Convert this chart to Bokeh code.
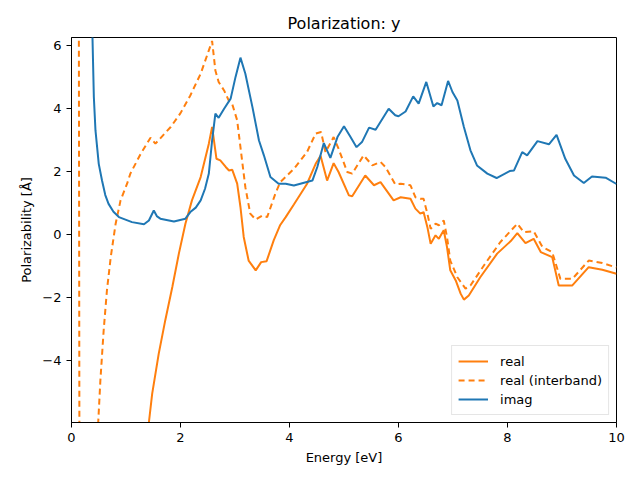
from bokeh.plotting import figure
from bokeh.embed import file_html
from bokeh.resources import INLINE
from bokeh.models import FixedTicker

# ---------------- data ----------------
imag_x = [0.33, 0.385, 0.41, 0.44, 0.50, 0.56, 0.62, 0.68, 0.77, 0.87, 1.11, 1.33, 1.42, 1.51,
          1.57, 1.63, 1.88, 2.09, 2.18, 2.28, 2.37, 2.45, 2.52, 2.58, 2.64, 2.70, 2.80, 2.92,
          3.01, 3.10, 3.19, 3.32, 3.44, 3.53, 3.65, 3.80, 3.93, 4.08, 4.42, 4.51, 4.63, 4.75,
          4.88, 5.0, 5.12, 5.23, 5.33, 5.46, 5.58, 5.82, 5.94, 6.0, 6.13, 6.27, 6.37, 6.51,
          6.64, 6.71, 6.79, 6.91, 6.99, 7.08, 7.20, 7.32, 7.44, 7.63, 7.80, 8.04, 8.12, 8.27,
          8.36, 8.55, 8.76, 8.90, 9.06, 9.22, 9.40, 9.55, 9.80, 10.0]
imag_y = [9.0, 6.25, 4.36, 3.3, 2.24, 1.71, 1.25, 0.97, 0.72, 0.55, 0.39, 0.32, 0.44, 0.76,
          0.57, 0.5, 0.41, 0.5, 0.71, 0.85, 1.08, 1.45, 1.93, 2.98, 3.83, 3.7, 3.99, 4.31,
          5.0, 5.61, 5.1, 4.04, 2.98, 2.51, 1.82, 1.61, 1.61, 1.55, 1.71, 2.14, 2.9, 2.43,
          3.09, 3.43, 3.09, 2.77, 2.93, 3.39, 3.32, 3.99, 3.78, 3.75, 3.9, 4.38, 4.15, 4.84,
          4.06, 4.17, 4.1, 4.87, 4.52, 4.25, 3.41, 2.67, 2.19, 1.93, 1.79, 2.01, 2.03, 2.61,
          2.51, 2.96, 2.86, 3.16, 2.4, 1.87, 1.63, 1.84, 1.8, 1.6]

inter_x = [0.10, 0.135, 0.14, 0.145, 0.3, 0.46, 0.49, 0.53, 0.59, 0.65, 0.72, 0.81, 0.90,
           1.02, 1.08, 1.27, 1.45, 1.54, 1.82, 2.0, 2.18, 2.37, 2.52, 2.58, 2.64, 2.70,
           2.80, 2.89, 2.95, 3.04, 3.10, 3.19, 3.28, 3.38, 3.50, 3.59, 3.74, 3.83, 4.08,
           4.32, 4.48, 4.58, 4.66, 4.81, 4.90, 5.06, 5.15, 5.36, 5.52, 5.67, 5.76, 5.94,
           6.04, 6.22, 6.31, 6.40, 6.46, 6.53, 6.59, 6.68, 6.74, 6.83, 6.89, 6.95, 7.08,
           7.23, 7.32, 7.57, 7.87, 8.18, 8.30, 8.48, 8.64, 8.82, 8.97, 9.19, 9.49, 9.74, 10.0]
inter_y = [9.0, 6.5, 0.0, -6.5, -12.0, -7.0, -5.97, -4.63, -3.05, -1.78, -0.72, 0.34, 1.08,
           1.61, 1.93, 2.56, 3.07, 2.88, 3.41, 3.85, 4.41, 5.1, 5.84, 6.14, 5.2, 4.84,
           4.57, 4.23, 4.13, 3.62, 2.77, 1.5, 0.66, 0.47, 0.6, 0.55, 1.29, 1.66, 2.08,
           2.61, 3.2, 3.25, 2.61, 3.09, 2.72, 1.98, 1.93, 2.51, 2.19, 2.3, 2.14, 1.59,
           1.61, 1.56, 1.18, 1.13, 1.13, 0.66, 0.18, 0.34, 0.29, 0.44, -0.08, -0.83, -1.36,
           -1.72, -1.62, -0.98, -0.24, 0.34, 0.07, 0.1, -0.4, -0.56, -1.41, -1.41, -0.83, -0.91, -1.05]

real_x = [1.3, 1.42, 1.48, 1.60, 1.72, 1.85, 1.97, 2.09, 2.21, 2.37, 2.52, 2.58, 2.66, 2.73,
          2.83, 2.89, 2.95, 3.04, 3.10, 3.16, 3.25, 3.38, 3.48, 3.58, 3.71, 3.83, 3.93, 4.08,
          4.32, 4.48, 4.57, 4.69, 4.81, 4.90, 5.09, 5.15, 5.39, 5.55, 5.67, 5.91, 6.04, 6.22,
          6.31, 6.40, 6.46, 6.53, 6.59, 6.68, 6.74, 6.83, 6.89, 6.95, 7.05, 7.14, 7.20, 7.29,
          7.50, 7.81, 8.06, 8.18, 8.33, 8.48, 8.61, 8.82, 8.94, 9.19, 9.49, 9.74, 10.0]
real_y = [-9.0, -5.97, -5.06, -3.79, -2.73, -1.67, -0.61, 0.34, 1.08, 1.82, 2.88, 3.41, 2.4, 2.35,
          2.14, 2.03, 2.05, 1.61, 0.87, -0.08, -0.83, -1.14, -0.88, -0.85, -0.19, 0.3, 0.55, 0.95,
          1.6, 2.24, 2.5, 1.71, 2.26, 1.98, 1.24, 1.21, 1.87, 1.56, 1.66, 1.08, 1.18, 1.13,
          0.82, 0.66, 0.71, 0.23, -0.3, -0.03, -0.14, 0.13, -0.4, -1.14, -1.46, -1.88, -2.07, -1.94,
          -1.36, -0.61, -0.21, 0.04, -0.28, -0.14, -0.56, -0.72, -1.62, -1.62, -1.04, -1.12, -1.25]

x_ticks = [0, 2, 4, 6, 8, 10]
y_ticks = [-4, -2, 0, 2, 4, 6]

ORANGE = "#ff7f0e"
BLUE = "#1f77b4"
FONT = "DejaVu Sans"

p = figure(width=640, height=480, x_range=(0, 10), y_range=(-5.97, 6.25),
           output_backend="svg", toolbar_location=None, title="Polarization: y",
           min_border_left=71, min_border_right=24, min_border_top=37, min_border_bottom=58)

p.line(real_x, real_y, color=ORANGE, line_width=2, legend_label="real")
p.line(inter_x, inter_y, color=ORANGE, line_width=2, line_dash="6 4",
       legend_label="real (interband)")
p.line(imag_x, imag_y, color=BLUE, line_width=2, legend_label="imag")

p.title.align = "center"
p.title.text_font = FONT
p.title.text_font_size = "16px"
p.title.text_font_style = "normal"
p.title.text_color = "black"

p.xgrid.visible = False
p.ygrid.visible = False
p.outline_line_color = "black"
p.outline_line_width = 1
p.background_fill_color = "white"
p.border_fill_color = "white"

p.xaxis.ticker = FixedTicker(ticks=x_ticks)
p.yaxis.ticker = FixedTicker(ticks=y_ticks)
for ax in (p.xaxis[0], p.yaxis[0]):
    ax.axis_line_color = "black"
    ax.major_tick_line_color = "black"
    ax.major_tick_out = 5
    ax.major_tick_in = 0
    ax.minor_tick_line_color = None
    ax.major_label_text_font = FONT
    ax.major_label_text_font_size = "13px"
    ax.major_label_text_color = "black"
    ax.axis_label_text_font = FONT
    ax.axis_label_text_font_size = "13px"
    ax.axis_label_text_font_style = "normal"
    ax.axis_label_text_color = "black"
p.xaxis.axis_label = "Energy [eV]"
p.yaxis.axis_label = "Polarizability [Å]"
p.yaxis.major_label_orientation = "horizontal"

lg = p.legend[0]
lg.location = "bottom_right"
lg.margin = 7
lg.padding = 6
lg.spacing = 1
lg.glyph_width = 30
lg.glyph_height = 18
lg.label_height = 18
lg.label_standoff = 12
lg.label_text_font = FONT
lg.label_text_font_size = "13px"
lg.label_text_color = "black"
lg.border_line_color = "#cccccc"
lg.border_line_width = 1
lg.background_fill_alpha = 0.8

open("out.html", "w").write(file_html(p, INLINE))
